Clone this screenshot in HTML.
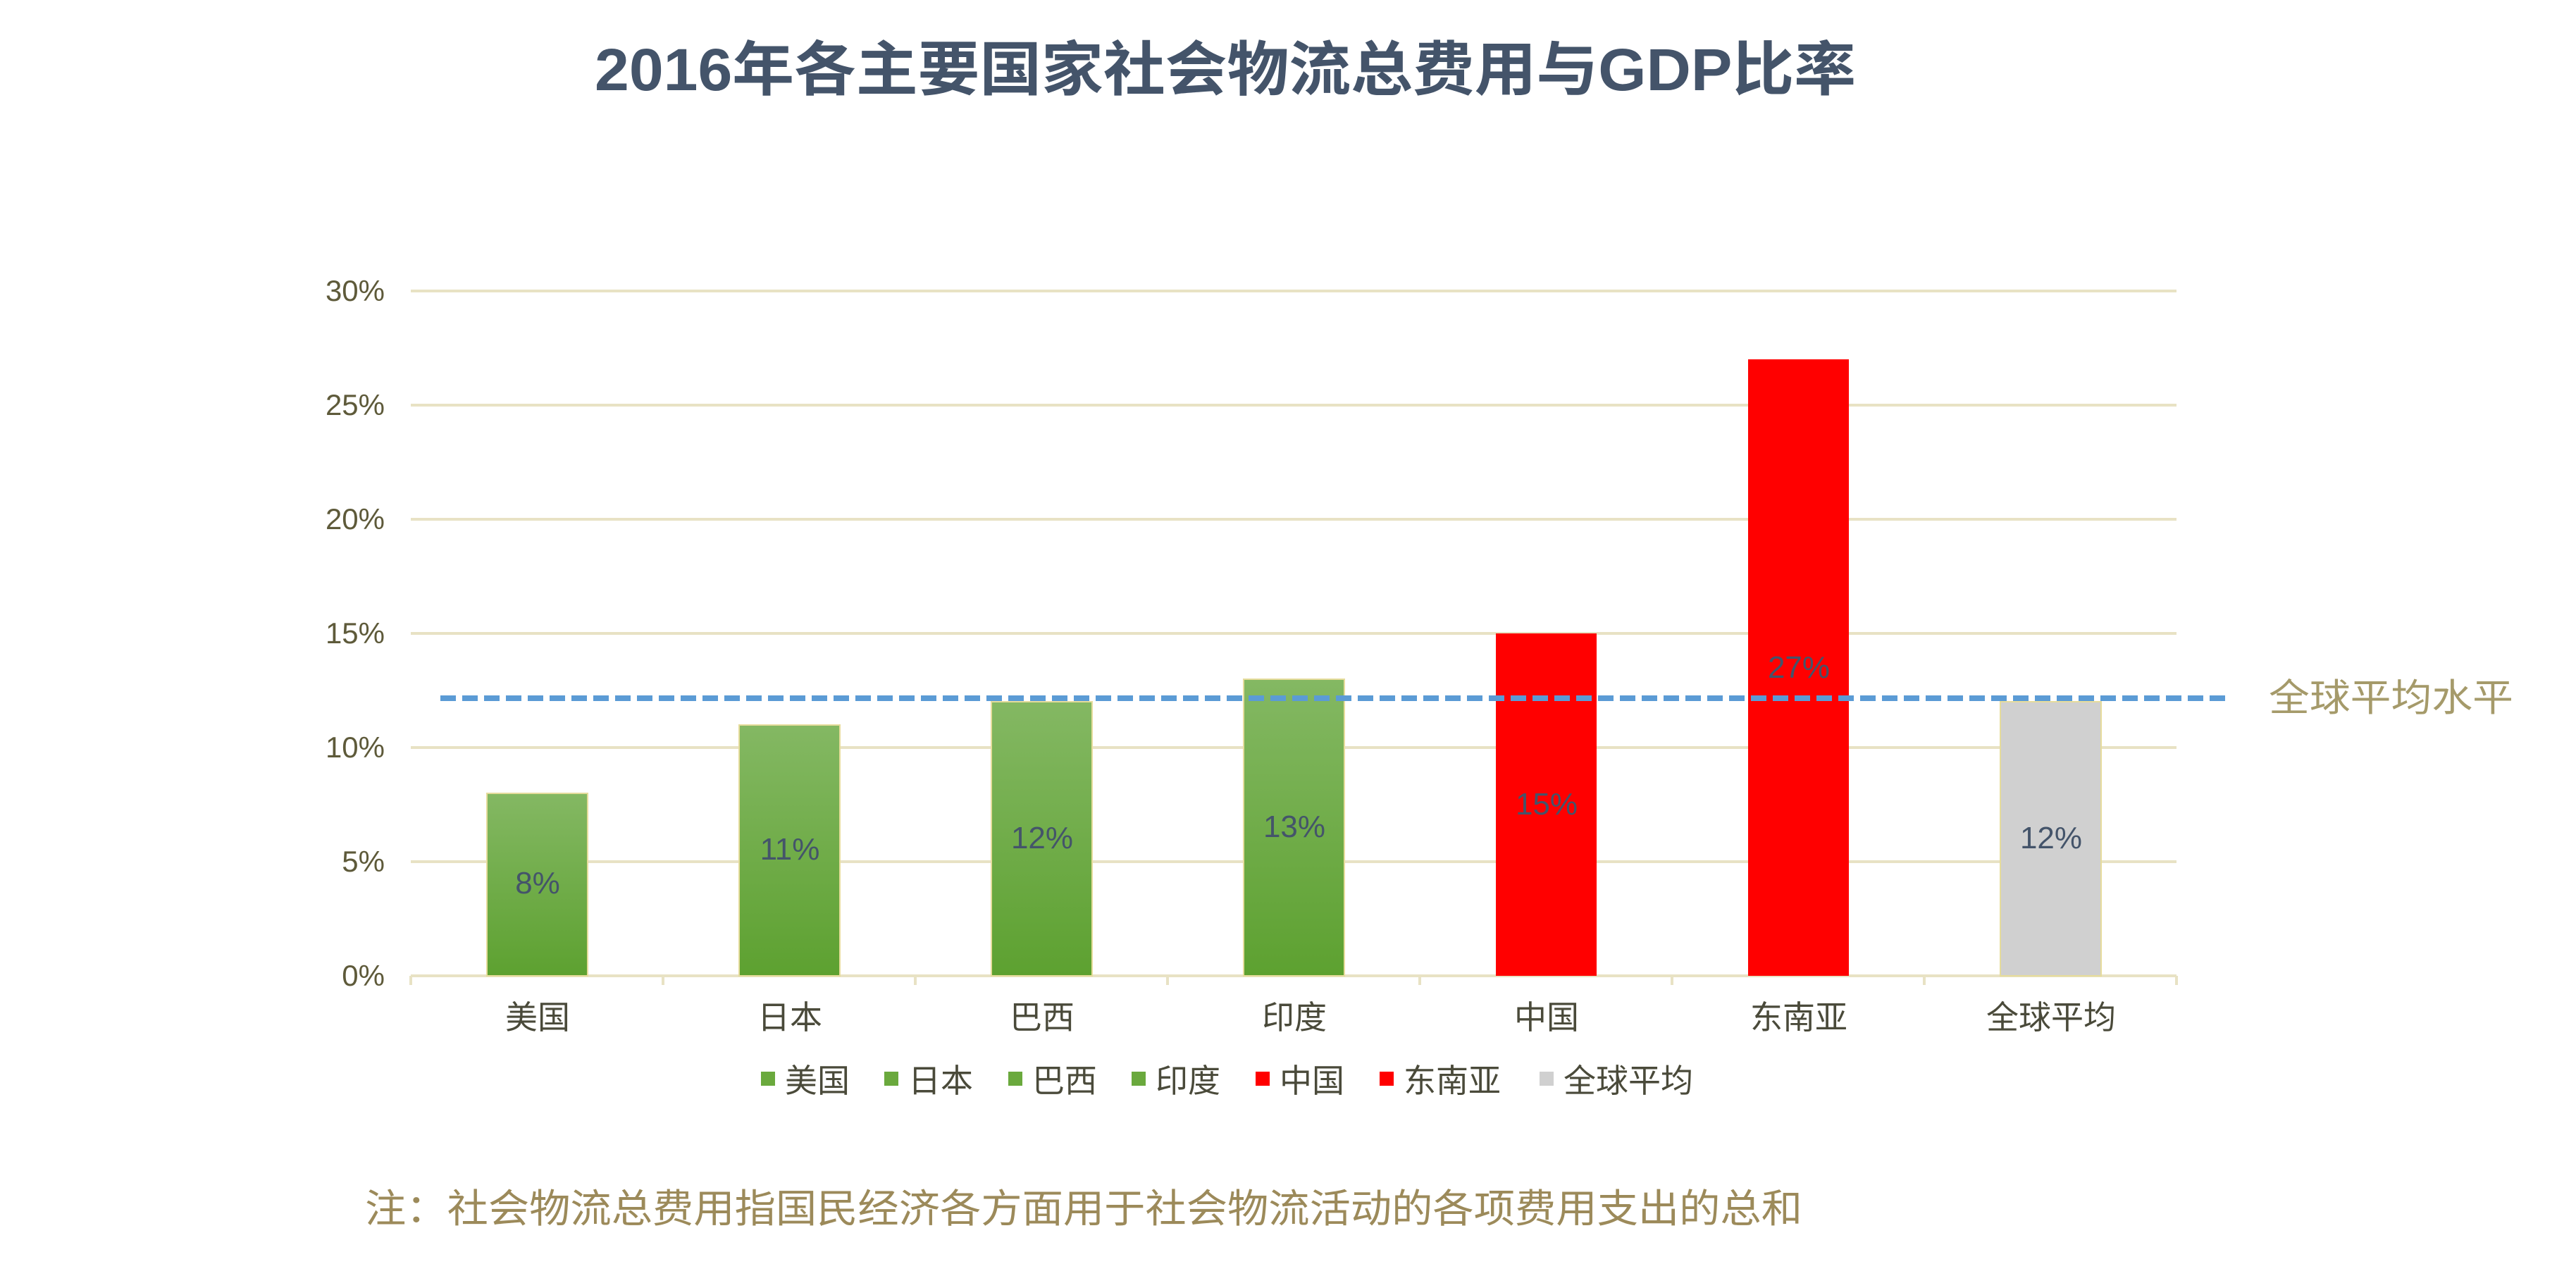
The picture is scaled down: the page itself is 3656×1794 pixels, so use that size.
<!DOCTYPE html>
<html><head><meta charset="utf-8">
<style>html,body{margin:0;padding:0;background:#fff;}svg{display:block;}</style>
</head><body>
<svg width="3656" height="1794" viewBox="0 0 3656 1794" xmlns="http://www.w3.org/2000/svg" font-family="'Liberation Sans','Noto Sans CJK SC',sans-serif">
<defs>
<linearGradient id="g" x1="0" y1="0" x2="0" y2="1">
<stop offset="0" stop-color="#84b863"/><stop offset="1" stop-color="#5da130"/>
</linearGradient>
</defs>
<text x="844" y="128" font-size="84" font-weight="bold" fill="#44546a" textLength="1790" lengthAdjust="spacingAndGlyphs">2016年各主要国家社会物流总费用与GDP比率</text>
<g stroke="#e8e2c4" stroke-width="4">
<line x1="583" y1="413" x2="3089" y2="413"/>
<line x1="583" y1="575" x2="3089" y2="575"/>
<line x1="583" y1="737" x2="3089" y2="737"/>
<line x1="583" y1="899" x2="3089" y2="899"/>
<line x1="583" y1="1061" x2="3089" y2="1061"/>
<line x1="583" y1="1223" x2="3089" y2="1223"/>
<line x1="583" y1="1385" x2="3089" y2="1385"/>
<line x1="583" y1="1385" x2="583" y2="1398"/><line x1="941" y1="1385" x2="941" y2="1398"/><line x1="1299" y1="1385" x2="1299" y2="1398"/><line x1="1657" y1="1385" x2="1657" y2="1398"/><line x1="2015" y1="1385" x2="2015" y2="1398"/><line x1="2373" y1="1385" x2="2373" y2="1398"/><line x1="2731" y1="1385" x2="2731" y2="1398"/><line x1="3089" y1="1385" x2="3089" y2="1398"/>
</g>
<g font-size="42" fill="#5e5a3a" text-anchor="end">
<text x="546" y="427">30%</text><text x="546" y="589">25%</text><text x="546" y="751">20%</text><text x="546" y="913">15%</text><text x="546" y="1075">10%</text><text x="546" y="1237">5%</text><text x="546" y="1399">0%</text>
</g>
<g stroke="#e6dc9c" stroke-width="2">
<rect x="691" y="1126" width="143" height="259" fill="url(#g)"/>
<rect x="1049" y="1029" width="143" height="356" fill="url(#g)"/>
<rect x="1407" y="996" width="143" height="389" fill="url(#g)"/>
<rect x="1765" y="964" width="143" height="421" fill="url(#g)"/>
<rect x="2123" y="899" width="143" height="486" fill="#ff0000" stroke="none"/>
<rect x="2481" y="510" width="143" height="875" fill="#ff0000" stroke="none"/>
<rect x="2839" y="996" width="143" height="389" fill="#d0d0d0"/>
</g>
<line x1="625" y1="991" x2="3164" y2="991" stroke="#5b9bd5" stroke-width="8" stroke-dasharray="22 9"/>
<text x="3220" y="1009" font-size="54" fill="#a59a6a" textLength="347" lengthAdjust="spacingAndGlyphs">全球平均水平</text>
<g font-size="44" fill="#44546a" text-anchor="middle">
<text x="763" y="1268">8%</text><text x="1121" y="1220">11%</text><text x="1479" y="1204">12%</text><text x="1837" y="1188">13%</text><text x="2195" y="1156">15%</text><text x="2553" y="962">27%</text><text x="2911" y="1204">12%</text>
</g>
<g font-size="46" fill="#4a4a3a" text-anchor="middle">
<text x="763" y="1460">美国</text><text x="1121" y="1460">日本</text><text x="1479" y="1460">巴西</text><text x="1837" y="1460">印度</text><text x="2195" y="1460">中国</text><text x="2553" y="1460">东南亚</text><text x="2911" y="1460">全球平均</text>
</g>
<g font-size="46" fill="#4a4a3a">
<rect x="1080" y="1521" width="20" height="20" fill="#6aa93d"/><text x="1114" y="1550">美国</text>
<rect x="1255" y="1521" width="20" height="20" fill="#6aa93d"/><text x="1289" y="1550">日本</text>
<rect x="1431" y="1521" width="20" height="20" fill="#6aa93d"/><text x="1465" y="1550">巴西</text>
<rect x="1606" y="1521" width="20" height="20" fill="#6aa93d"/><text x="1640" y="1550">印度</text>
<rect x="1782" y="1521" width="20" height="20" fill="#ff0000"/><text x="1816" y="1550">中国</text>
<rect x="1958" y="1521" width="20" height="20" fill="#ff0000"/><text x="1992" y="1550">东南亚</text>
<rect x="2185" y="1521" width="20" height="20" fill="#d0d0d0"/><text x="2219" y="1550">全球平均</text>
</g>
<text x="518" y="1735" font-size="56" fill="#9c8a5a" textLength="2040" lengthAdjust="spacingAndGlyphs">注：社会物流总费用指国民经济各方面用于社会物流活动的各项费用支出的总和</text>
</svg>
</body></html>
